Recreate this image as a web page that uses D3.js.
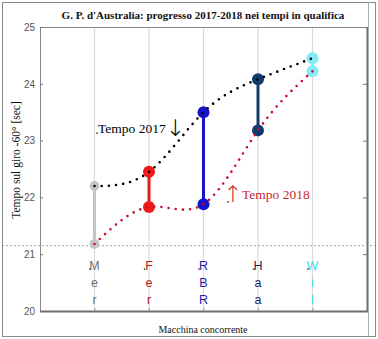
<!DOCTYPE html>
<html><head><meta charset="utf-8">
<script src="https://cdn.jsdelivr.net/npm/d3@7"></script>
<style>body{margin:0;background:#fff}svg{display:block}</style>
</head><body><svg id="c" width="378" height="339"></svg>
<script>
const cars = ["Mer","Fer","RBR","Haa","Wil"];
const t2017 = [22.2, 22.45, 23.5, 24.08, 24.45];
const t2018 = [21.18, 21.83, 21.88, 23.18, 24.22];
const carColors = ["#c4c4c4","#ee1a1a","#1414c8","#123a72","#80eef4"];
const labelColors = ["#707070","#b01a1a","#1a1ab4","#1c1c52","#3cdcec"];
const yTicks = [20,21,22,23,24,25];
const refLine = 21.15;
const title = "G. P. d'Australia: progresso 2017-2018 nei tempi in qualifica";
const yLabel = "Tempo sul giro -60°  [sec]";
const xLabel = "Macchina concorrente";

const svg = d3.select("#c");
const L=40, R=367, T=27, B=311;
const x = d3.scaleLinear().domain([0,6]).range([L,R]);
const y = d3.scaleLinear().domain([20,25]).range([B,T]);
const serif = "'Liberation Serif','Times New Roman',serif";
const sans = "'Liberation Sans',Arial,sans-serif";

svg.append("rect").attr("x",2.5).attr("y",2.5).attr("width",373).attr("height",334)
  .attr("fill","#fff").attr("stroke","#8a8a8a").attr("stroke-width",1);

svg.append("g").selectAll("line").data(cars).join("line")
  .attr("x1",(d,i)=>x(i+1)).attr("x2",(d,i)=>x(i+1)).attr("y1",T).attr("y2",B)
  .attr("stroke","#dadada").attr("stroke-width",1.2);

svg.append("line").attr("x1",L).attr("x2",R).attr("y1",T+0.5).attr("y2",T+0.5).attr("stroke","#888");
svg.append("line").attr("x1",L+0.5).attr("x2",L+0.5).attr("y1",T).attr("y2",B).attr("stroke","#888");
svg.append("line").attr("x1",L).attr("x2",R+1).attr("y1",B+0.5).attr("y2",B+0.5).attr("stroke","#6e6e6e").attr("stroke-width",2);
svg.append("line").attr("x1",R+0.5).attr("x2",R+0.5).attr("y1",T).attr("y2",B).attr("stroke","#6e6e6e").attr("stroke-width",2);
svg.append("line").attr("x1",R+1.5).attr("x2",R+1.5).attr("y1",3).attr("y2",336).attr("stroke","#b0b0b0").attr("stroke-width",1);

const yAxis = d3.axisLeft(y).tickValues(yTicks).tickSize(-3).tickPadding(5).tickFormat(d3.format("d"));
const ga = svg.append("g").attr("transform",`translate(${L},0)`).call(yAxis);
ga.select(".domain").remove();
ga.selectAll("line").attr("stroke","#777");
ga.selectAll("text").attr("font-family",sans).attr("font-size",10).attr("fill","#555");
const yAxisR = d3.axisRight(y).tickValues(yTicks.slice(1,5)).tickSize(-4).tickFormat("");
const gr = svg.append("g").attr("transform",`translate(${R},0)`).call(yAxisR);
gr.select(".domain").remove();
gr.selectAll("line").attr("stroke","#777");
const xAxis = d3.axisBottom(x).tickValues([1,2,3,4,5]).tickSize(-3).tickFormat("");
const gx = svg.append("g").attr("transform",`translate(0,${B})`).call(xAxis);
gx.select(".domain").remove();
gx.selectAll("line").attr("stroke","#999");

svg.append("line").attr("x1",2).attr("x2",375).attr("y1",y(refLine)).attr("y2",y(refLine))
  .attr("stroke","#8a8a8a").attr("stroke-width",0.8).attr("stroke-dasharray","2,2");

svg.append("g").selectAll("line").data(cars).join("line")
  .attr("x1",(d,i)=>x(i+1)).attr("x2",(d,i)=>x(i+1))
  .attr("y1",(d,i)=>y(t2017[i])).attr("y2",(d,i)=>y(t2018[i]))
  .attr("stroke",(d,i)=>carColors[i]).attr("stroke-width",3);
const pts = [];
cars.forEach((c,i)=>{pts.push({i,v:t2017[i]});pts.push({i,v:t2018[i]});});
svg.append("g").selectAll("circle").data(pts).join("circle")
  .attr("cx",d=>x(d.i+1)).attr("cy",d=>y(d.v)).attr("r",d=>d.i===0?5:6)
  .attr("fill",d=>carColors[d.i]);

const line = d3.line().x((d,i)=>x(i+1)).y(d=>y(d)).curve(d3.curveNatural);
svg.append("path").attr("d",line(t2017)).attr("fill","none").attr("stroke","#000")
  .attr("stroke-width",2.6).attr("stroke-linecap","round").attr("stroke-dasharray","0 7.2");
svg.append("path").attr("d",line(t2018)).attr("fill","none").attr("stroke","#c8102e")
  .attr("stroke-width",2.6).attr("stroke-linecap","round").attr("stroke-dasharray","0 7.2");

const lg = svg.append("g");
cars.forEach((c,i)=>{
  c.split("").forEach((ch,k)=>{
    lg.append("text").attr("x",x(i+1)).attr("y",y(20.72)+k*17)
      .attr("text-anchor","middle").attr("font-family",sans).attr("font-size",12.5)
      .attr("fill",labelColors[i]).text(ch);
  });
  lg.append("circle").attr("cx",x(i+1)-4.5).attr("cy",y(20.72)-1).attr("r",0.8).attr("fill","#222");
});

svg.append("text").attr("x",98).attr("y",133).attr("font-family",serif).attr("font-size",13.5)
  .attr("fill","#000").text("Tempo 2017");
svg.append("text").attr("x",175.5).attr("y",136).attr("text-anchor","middle").attr("font-family","'DejaVu Sans'")
  .attr("font-size",23).attr("font-weight","300").attr("fill","#000").text("↓");
svg.append("circle").attr("cx",97).attr("cy",133).attr("r",0.8).attr("fill","#000");
svg.append("text").attr("x",233).attr("y",202).attr("text-anchor","middle").attr("font-family","'DejaVu Sans'")
  .attr("font-size",23).attr("font-weight","300").attr("fill","#c8282d").text("↑");
svg.append("text").attr("x",242).attr("y",199).attr("font-family",serif).attr("font-size",13.5)
  .attr("fill","#c8282d").text("Tempo 2018");
svg.append("circle").attr("cx",228).attr("cy",202).attr("r",0.8).attr("fill","#000");

svg.append("text").attr("x",203).attr("y",19).attr("text-anchor","middle").attr("font-family",serif)
  .attr("font-weight","bold").attr("font-size",11).attr("fill","#111").text(title);
svg.append("text").attr("x",203).attr("y",333).attr("text-anchor","middle").attr("font-family",serif)
  .attr("font-size",10).attr("fill","#111").text(xLabel);
svg.append("text").attr("transform","translate(20,160) rotate(-90)").attr("text-anchor","middle")
  .attr("font-family",serif).attr("font-size",11.5).attr("fill","#111").text(yLabel);
</script></body></html>
